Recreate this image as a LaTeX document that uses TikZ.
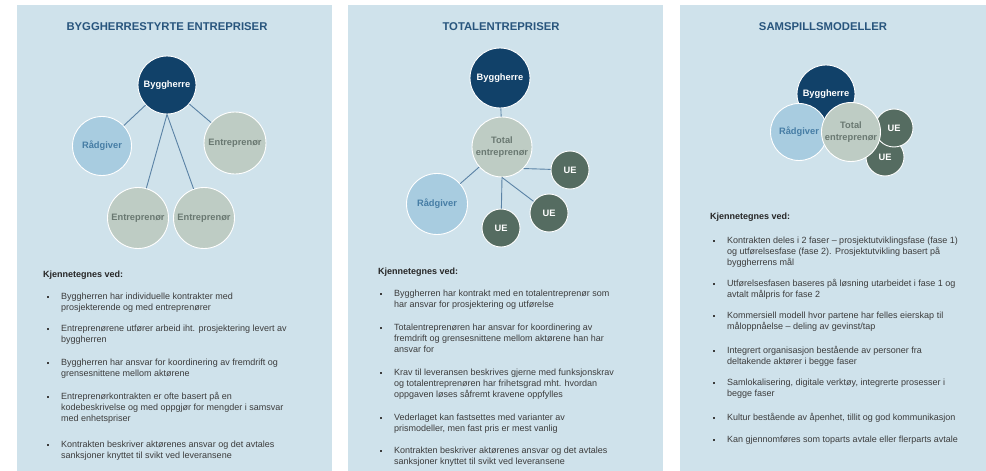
\documentclass[tikz,border=0pt]{standalone}
\usepackage{fontspec}
\setmainfont{Liberation Sans}
\definecolor{panelbg}{RGB}{207,226,235}
\definecolor{titleblue}{RGB}{40,85,125}
\definecolor{bhfill}{RGB}{17,65,105}
\definecolor{rgfill}{RGB}{168,204,224}
\definecolor{rgtext}{RGB}{70,125,165}
\definecolor{enfill}{RGB}{190,204,196}
\definecolor{entext}{RGB}{105,120,113}
\definecolor{uefill}{RGB}{85,108,97}
\definecolor{linecol}{RGB}{90,130,165}
\definecolor{bodytext}{RGB}{60,60,60}
\newcommand\bulletmark{\makebox[14pt][l]{\raisebox{1.5pt}{\rule{2.2pt}{2.2pt}}}}
\newcommand\indline{\hspace*{14pt}}
\begin{document}
\begin{tikzpicture}[x=1pt,y=-1pt,
  panel/.style={fill=panelbg,draw=none},
  titletxt/.style={font=\fontsize{11.3}{13}\selectfont\bfseries,text=titleblue,inner sep=0pt},
  circ/.style={circle,draw=white,line width=0.9pt,inner sep=0pt,align=center,font=\fontsize{9.3}{12}\selectfont\bfseries},
  bh/.style={circ,fill=bhfill,text=white},
  rg/.style={circ,fill=rgfill,text=rgtext},
  en/.style={circ,fill=enfill,text=entext},
  ue/.style={circ,fill=uefill,text=white},
  conn/.style={draw=linecol,line width=0.9pt},
  head/.style={anchor=base west,inner sep=0pt,font=\fontsize{9}{11}\selectfont\bfseries,text=black!85},
  body/.style={anchor=base west,inner sep=0pt,align=left,font=\fontsize{9}{11}\selectfont,text=bodytext}
]
\useasboundingbox (0,0) rectangle (986,471);
\fill[white] (0,0) rectangle (986,471);
\fill[panel] (17,5) rectangle (332,471);
\fill[panel] (348,5) rectangle (663,471);
\fill[panel] (680,5) rectangle (986,471);

% ---------- Panel 1 ----------
\node[titletxt] (t1) at (167,27) {BYGGHERRESTYRTE ENTREPRISER};
\node[bh,minimum size=58pt] (p1bh) at (167,85) {Byggherre};
\node[rg,minimum size=59pt] (p1rg) at (102,146) {Rådgiver};
\node[en,minimum size=62pt] (p1e1) at (235,143) {Entreprenør};
\node[en,minimum size=61pt] (p1e2) at (138,218) {Entreprenør};
\node[en,minimum size=61pt] (p1e3) at (204,218) {Entreprenør};
\draw[conn] (p1bh) -- (p1rg);
\draw[conn] (p1bh) -- (p1e1);
\draw[conn] (p1bh.south) -- (p1e2);
\draw[conn] (p1bh.south) -- (p1e3);

\node[head] (k1) at (43,277.5) {Kjennetegnes ved:};
\node[body] (p1b1) at (47,310.5) {\bulletmark Byggherren har individuelle kontrakter med\\\indline prosjekterende og med entreprenører};
\node[body] (p1b2) at (47,342.5) {\bulletmark Entreprenørene utfører arbeid iht. prosjektering levert av\\\indline byggherren};
\node[body] (p1b3) at (47,376.5) {\bulletmark Byggherren har ansvar for koordinering av fremdrift og\\\indline grensesnittene mellom aktørene};
\node[body] (p1b4) at (47,421.5) {\bulletmark Entreprenørkontrakten er ofte basert på en\\\indline kodebeskrivelse og med oppgjør for mengder i samsvar\\\indline med enhetspriser};
\node[body] (p1b5) at (47,458.5) {\bulletmark Kontrakten beskriver aktørenes ansvar og det avtales\\\indline sanksjoner knyttet til svikt ved leveransene};

% ---------- Panel 2 ----------
\node[titletxt] (t2) at (501,27) {TOTALENTREPRISER};
\node[bh,minimum size=60pt] (p2bh) at (500,78) {Byggherre};
\node[en,minimum size=60pt] (p2te) at (502,147) {Total\\entreprenør};
\node[ue,minimum size=38pt] (p2u1) at (570,170) {UE};
\node[ue,minimum size=38pt] (p2u2) at (549,213) {UE};
\node[ue,minimum size=38pt] (p2u3) at (501,228) {UE};
\node[rg,minimum size=61pt] (p2rg) at (437,204) {Rådgiver};
\draw[conn] (p2bh) -- (p2te);
\draw[conn] (p2te) -- (p2rg);
\draw[conn] (p2te.-45) -- (p2u1);
\draw[conn] (p2te.south) -- (p2u2);
\draw[conn] (p2te.south) -- (p2u3);

\node[head] (k2) at (378,274.5) {Kjennetegnes ved:};
\node[body] (p2b1) at (380,307.5) {\bulletmark Byggherren har kontrakt med en totalentreprenør som\\\indline har ansvar for prosjektering og utførelse};
\node[body] (p2b2) at (380,352.5) {\bulletmark Totalentreprenøren har ansvar for koordinering av\\\indline fremdrift og grensesnittene mellom aktørene han har\\\indline ansvar for};
\node[body] (p2b3) at (380,397.5) {\bulletmark Krav til leveransen beskrives gjerne med funksjonskrav\\\indline og totalentreprenøren har frihetsgrad mht. hvordan\\\indline oppgaven løses såfremt kravene oppfylles};
\node[body] (p2b4) at (380,431.5) {\bulletmark Vederlaget kan fastsettes med varianter av\\\indline prismodeller, men fast pris er mest vanlig};
\node[body] (p2b5) at (380,464.5) {\bulletmark Kontrakten beskriver aktørenes ansvar og det avtales\\\indline sanksjoner knyttet til svikt ved leveransene};

% ---------- Panel 3 ----------
\node[titletxt] (t3) at (823,27) {SAMSPILLSMODELLER};
\node[bh,minimum size=58pt] (p3bh) at (826,94) {Byggherre};
\node[rg,minimum size=57pt] (p3rg) at (799,132) {Rådgiver};
\node[ue,minimum size=38pt] (p3u2) at (885,157) {UE};
\node[ue,minimum size=38pt] (p3u1) at (894,128) {UE};
\node[en,minimum size=59pt] (p3te) at (851,132) {Total\\entreprenør};

\node[head] (k3) at (710,219.5) {Kjennetegnes ved:};
\node[body] (p3b1) at (713,265.5) {\bulletmark Kontrakten deles i 2 faser – prosjektutviklingsfase (fase 1)\\\indline og utførelsesfase (fase 2). Prosjektutvikling basert på\\\indline byggherrens mål};
\node[body] (p3b2) at (713,297.5) {\bulletmark Utførelsesfasen baseres på løsning utarbeidet i fase 1 og\\\indline avtalt målpris for fase 2};
\node[body] (p3b3) at (713,329.5) {\bulletmark Kommersiell modell hvor partene har felles eierskap til\\\indline måloppnåelse – deling av gevinst/tap};
\node[body] (p3b4) at (713,364.5) {\bulletmark Integrert organisasjon bestående av personer fra\\\indline deltakende aktører i begge faser};
\node[body] (p3b5) at (713,396.5) {\bulletmark Samlokalisering, digitale verktøy, integrerte prosesser i\\\indline begge faser};
\node[body] (p3b6) at (713,420.5) {\bulletmark Kultur bestående av åpenhet, tillit og god kommunikasjon};
\node[body] (p3b7) at (713,442.5) {\bulletmark Kan gjennomføres som toparts avtale eller flerparts avtale};
\end{tikzpicture}
\end{document}
